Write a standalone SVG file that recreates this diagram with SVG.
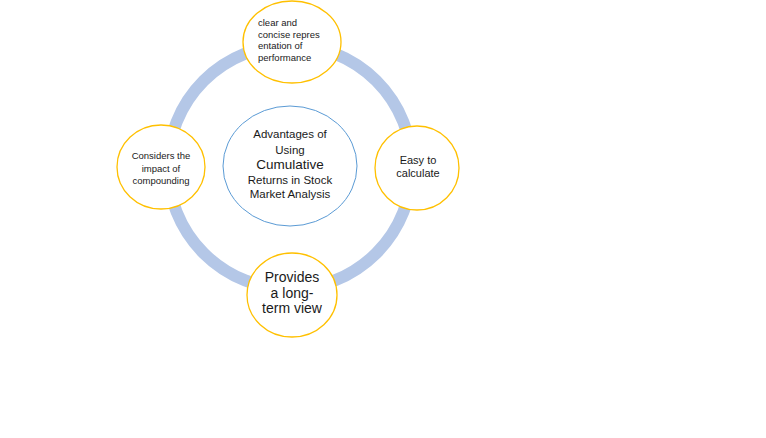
<svg xmlns="http://www.w3.org/2000/svg" width="766" height="438" viewBox="0 0 766 438">
<style>
.node{fill:#FFFFFF;stroke:#FFC000;stroke-width:1.3}
.hub{fill:#FFFFFF;stroke:#5B9BD5;stroke-width:1}
.ring{fill:none;stroke:#B4C7E7;stroke-width:12}
text{font-family:"Liberation Sans","DejaVu Sans",sans-serif;fill:#1A1A1A}
.c{text-anchor:middle}
</style>
<rect width="766" height="438" fill="#FFFFFF"/>
<g id="connectors">
<circle class="ring" cx="290" cy="167" r="122"/>
</g>
<g id="node-hub">
<ellipse class="hub" cx="290" cy="166" rx="67" ry="60"/>
<text class="c" font-size="11.5"><tspan x="290" y="138">Advantages of</tspan><tspan x="290" y="154">Using</tspan><tspan x="290" y="169" font-size="13.5">Cumulative</tspan><tspan x="290" y="184">Returns in Stock</tspan><tspan x="290" y="198">Market Analysis</tspan></text>
</g>
<g id="node-top">
<ellipse class="node" cx="292" cy="42" rx="49" ry="41"/>
<text font-size="9.5"><tspan x="258" y="26">clear and</tspan><tspan x="258" y="38">concise repres</tspan><tspan x="258" y="49">entation of</tspan><tspan x="258" y="61">performance</tspan></text>
</g>
<g id="node-right">
<ellipse class="node" cx="417" cy="168" rx="42" ry="42"/>
<text class="c" font-size="11"><tspan x="418" y="164">Easy to</tspan><tspan x="418" y="177">calculate</tspan></text>
</g>
<g id="node-bottom">
<ellipse class="node" cx="292" cy="295" rx="45" ry="42"/>
<text class="c" font-size="14"><tspan x="292" y="282">Provides</tspan><tspan x="292" y="298">a long-</tspan><tspan x="292" y="313">term view</tspan></text>
</g>
<g id="node-left">
<ellipse class="node" cx="161" cy="167" rx="44" ry="42"/>
<text class="c" font-size="9.5"><tspan x="161" y="159">Considers the</tspan><tspan x="161" y="172">impact of</tspan><tspan x="161" y="184">compounding</tspan></text>
</g>
</svg>
